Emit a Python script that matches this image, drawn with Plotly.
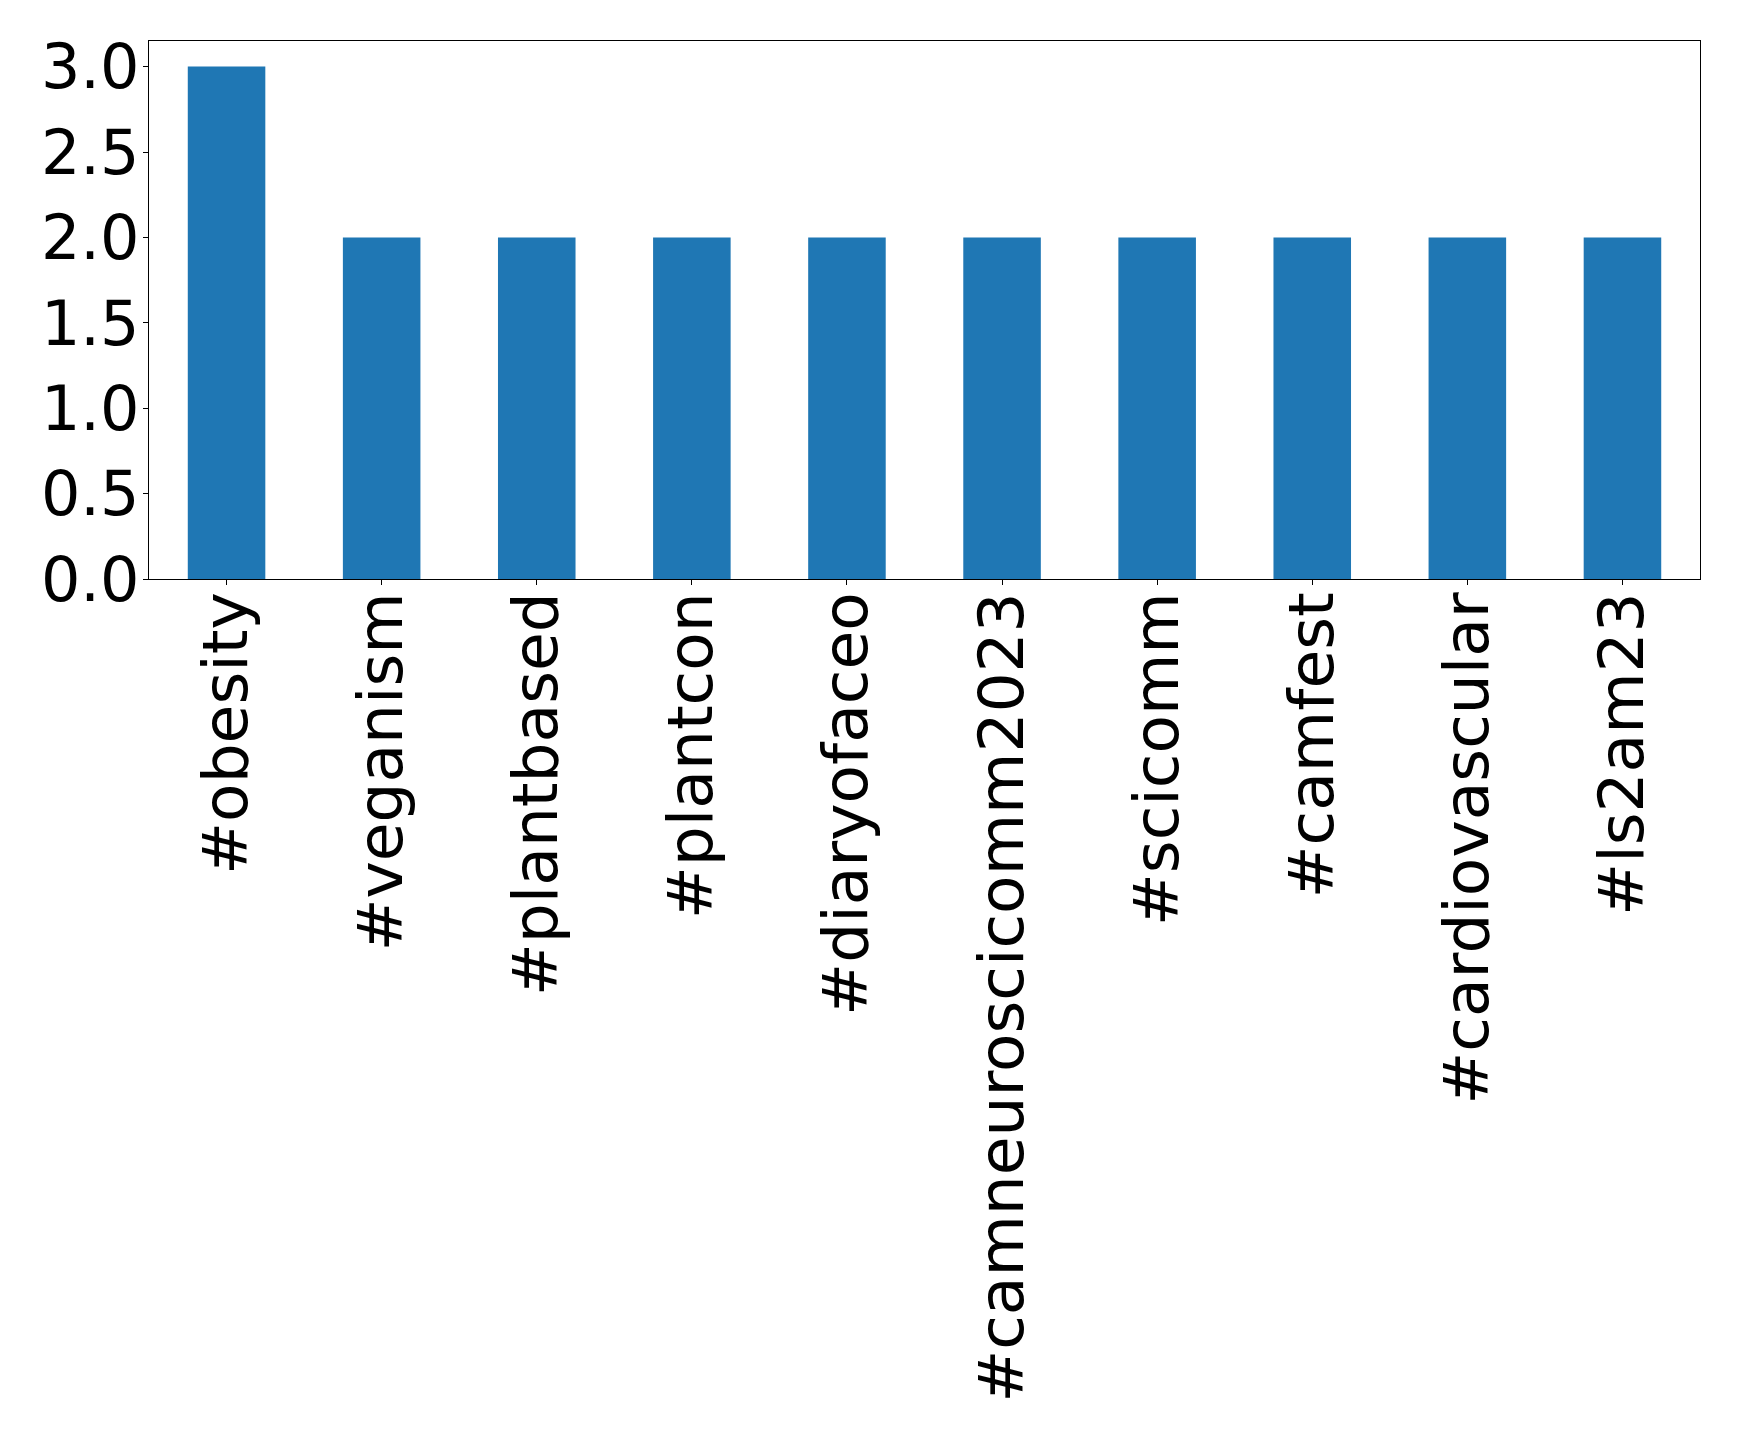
import plotly.graph_objects as go

categories = ["#obesity", "#veganism", "#plantbased", "#plantcon", "#diaryofaceo",
              "#camneuroscicomm2023", "#scicomm", "#camfest", "#cardiovascular", "#ls2am23"]
values = [3, 2, 2, 2, 2, 2, 2, 2, 2, 2]
y_ticks = [0.0, 0.5, 1.0, 1.5, 2.0, 2.5, 3.0]

fig = go.Figure(go.Bar(
    x=list(range(len(categories))), y=values, width=0.5,
    marker=dict(color="#1f77b4", line=dict(width=0)),
))

FONT = "DejaVu Sans"
fig.update_layout(
    width=1739, height=1432,
    margin=dict(l=141, r=47, t=33, b=861),
    plot_bgcolor="white", paper_bgcolor="white",
    font=dict(family=FONT, size=62, color="black"),
    showlegend=False,
)
fig.update_xaxes(
    range=[-0.5, len(categories) - 0.5],
    tickmode="array", tickvals=list(range(len(categories))), ticktext=categories,
    tickangle=-90, ticks="outside", ticklen=5, tickwidth=1.2, tickcolor="black",
    showline=True, linecolor="black", linewidth=1.2, mirror=True,
    showgrid=False, zeroline=False, tickfont=dict(family=FONT, size=63),
    ticklabelstandoff=-18,
)
fig.update_yaxes(
    range=[0, 3.15],
    tickmode="array", tickvals=y_ticks, ticktext=[f"{v:.1f}" for v in y_ticks],
    ticks="outside", ticklen=5, tickwidth=1.2, tickcolor="black",
    showline=True, linecolor="black", linewidth=1.2, mirror=True,
    showgrid=False, zeroline=False, tickfont=dict(family=FONT, size=62),
    ticklabelstandoff=-9,
)

fig.write_html("out.html")
